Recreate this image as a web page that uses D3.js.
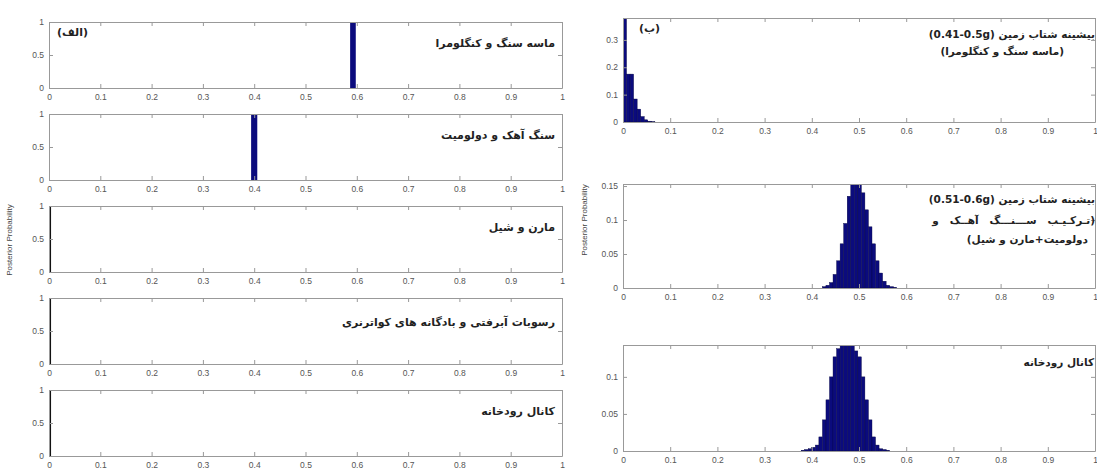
<html>
<head>
<meta charset="utf-8">
<title>Posterior Probability</title>
<style>
  body { margin: 0; background: #fff; }
  svg { display: block; }
  .tick text { font-family: "Liberation Sans", Arial, sans-serif; font-size: 8.5px; fill: #555; }
  .fa { font-family: "DejaVu Sans", sans-serif; font-weight: bold; fill: #222; direction: rtl; }
</style>
<script src="https://cdn.jsdelivr.net/npm/d3@7"></script>
</head>
<body>
<svg width="1097" height="471"></svg>
<script>
// tick values / labels
var xTicks = [0, 0.1, 0.2, 0.3, 0.4, 0.5, 0.6, 0.7, 0.8, 0.9, 1];
var xTickLabels = ["0", "0.1", "0.2", "0.3", "0.4", "0.5", "0.6", "0.7", "0.8", "0.9", "1"];
var leftYTicks = [0, 0.5, 1];

// left column: one bar per rock type
var leftLabels = ["ماسه سنگ و کنگلومرا", "سنگ آهک و دولومیت", "مارن و شیل",
                  "رسوبات آبرفتی و بادگانه های کواترنری", "کانال رودخانه"];
var leftBarStart = [0.587, 0.394, 0, 0, 0];
var leftBarEnd   = [0.598, 0.406, 0.004, 0.004, 0.004];
var leftBarProb  = [1, 1, 1, 1, 1];

// right column: histograms (bin left edge, width 0.0075)
var binWidth = 0.0075;
var hist1Start = [0, 0.0075, 0.015, 0.0225, 0.03, 0.0375, 0.045, 0.0525, 0.06];
var hist1Prob  = [0.38, 0.175, 0.175, 0.084, 0.047, 0.02, 0.008, 0.003, 0.001];
var hist2Start = [0.4225, 0.43, 0.4375, 0.445, 0.4525, 0.46, 0.4675, 0.475, 0.4825, 0.49, 0.4975,
                  0.505, 0.5125, 0.52, 0.5275, 0.535, 0.5425, 0.55, 0.5575, 0.565, 0.5725];
var hist2Prob  = [0.002, 0.004, 0.008, 0.02, 0.04, 0.065, 0.095, 0.135, 0.152, 0.155, 0.155,
                  0.14, 0.115, 0.09, 0.065, 0.04, 0.022, 0.01, 0.004, 0.002, 0.001];
var hist3Start = [0.3775, 0.385, 0.3925, 0.4, 0.4075, 0.415, 0.4225, 0.43, 0.4375, 0.445, 0.4525,
                  0.46, 0.4675, 0.475, 0.4825, 0.49, 0.4975, 0.505, 0.5125, 0.52, 0.5275,
                  0.535, 0.5425, 0.55, 0.5575];
var hist3Prob  = [0.001, 0.002, 0.003, 0.005, 0.008, 0.019, 0.042, 0.069, 0.1, 0.127, 0.138,
                  0.143, 0.145, 0.145, 0.143, 0.135, 0.127, 0.1, 0.069, 0.042, 0.019,
                  0.008, 0.003, 0.002, 0.001];
var rightYMax   = [0.38, 0.153, 0.143];
var rightYTicks = [[0, 0.1, 0.2, 0.3], [0, 0.05, 0.1, 0.15], [0, 0.05, 0.1]];
var rightYLabels = [["0", "0.1", "0.2", "0.3"], ["0", "0.05", "0.1", "0.15"], ["0", "0.05", "0.1"]];

var svg = d3.select("svg");
var barFill = "#0b0b7d";

function panel(x0, x1, y0, y1, ymax, yticks, ylabels) {
    var g = svg.append("g");
    var x = d3.scaleLinear().domain([0, 1]).range([x0, x1]);
    var y = d3.scaleLinear().domain([0, ymax]).range([y1, y0]);
    var id = "c" + Math.round(y0);
    svg.append("clipPath").attr("id", id).append("rect")
        .attr("x", x0).attr("y", y0).attr("width", x1 - x0).attr("height", y1 - y0);
    var marks = g.append("g").attr("clip-path", "url(#" + id + ")");

    // box with inward ticks on all sides
    var bottom = d3.axisBottom(x).tickValues(xTicks).tickFormat((d, i) => xTickLabels[i])
        .tickSizeInner(-4).tickSizeOuter(0).tickPadding(6);
    var top = d3.axisTop(x).tickValues(xTicks).tickFormat("").tickSizeInner(-4).tickSizeOuter(0);
    var left = d3.axisLeft(y).tickValues(yticks).tickFormat((d, i) => ylabels[i])
        .tickSizeInner(-4).tickSizeOuter(0).tickPadding(5);
    var right = d3.axisRight(y).tickValues(yticks).tickFormat("").tickSizeInner(-4).tickSizeOuter(0);
    [[bottom, 0, y1], [top, 0, y0], [left, x0, 0], [right, x1, 0]].forEach(function (a) {
        var ax = g.append("g").attr("transform", `translate(${a[1]},${a[2]})`).call(a[0]);
        ax.select(".domain").attr("stroke", "#999");
        ax.selectAll(".tick line").attr("stroke", "#999");
    });
    return {g: g, marks: marks, x: x, y: y};
}

// left column
var leftTops = [22, 114, 206, 298, 390];
leftTops.forEach(function (t, i) {
    var p = panel(49, 562, t, t + 66, 1, leftYTicks, ["0", "0.5", "1"]);
    p.marks.append("rect")
        .attr("x", p.x(leftBarStart[i]))
        .attr("width", Math.max(1.5, p.x(leftBarEnd[i]) - p.x(leftBarStart[i])))
        .attr("y", p.y(leftBarProb[i]))
        .attr("height", p.y(0) - p.y(leftBarProb[i]))
        .attr("fill", i < 2 ? barFill : "#111");
    p.g.append("text").attr("class", "fa")
        .attr("x", 555).attr("y", t + (i == 3 ? 28 : 25))
        .attr("font-size", 11)
        .text(leftLabels[i]);
});
svg.append("text").attr("class", "fa").attr("x", 0).attr("y", 0)
    .attr("font-size", 11)
    .attr("transform", "translate(88,36)")
    .text("(الف)");

// right column
var hists = [[hist1Start, hist1Prob], [hist2Start, hist2Prob], [hist3Start, hist3Prob]];
var rightBox = [[18, 122], [184, 288], [345, 451]];
hists.forEach(function (h, k) {
    var b = rightBox[k];
    var p = panel(623, 1095, b[0], b[1], rightYMax[k], rightYTicks[k], rightYLabels[k]);
    p.marks.selectAll("rect").data(h[0]).enter().append("rect")
        .attr("x", d => p.x(d))
        .attr("width", p.x(binWidth) - p.x(0))
        .attr("y", (d, i) => p.y(Math.min(h[1][i], rightYMax[k])))
        .attr("height", (d, i) => p.y(0) - p.y(Math.min(h[1][i], rightYMax[k])))
        .attr("fill", barFill)
        .attr("stroke", "#050540")
        .attr("stroke-width", 0.4);
});

// right annotations (numbers isolated so they read left to right)
var rt = [
    ["بیشینه شتاب زمین (\u20660.41-0.5g\u2069)", 1095, 38],
    ["(ماسه سنگ و کنگلومرا)", 1064, 55],
    ["بیشینه شتاب زمین (\u20660.51-0.6g\u2069)", 1095, 203],
    ["(تـرکـیـب   ســـنـــگ   آهــک   و", 1095, 224],
    ["دولومیت+مارن و شیل)", 1088, 243],
    ["کانال رودخانه", 1094, 366]
];
rt.forEach(function (r) {
    svg.append("text").attr("class", "fa").attr("x", r[1]).attr("y", r[2])
        .attr("font-size", 10.5).attr("xml:space", "preserve").style("white-space", "pre").text(r[0]);
});
svg.append("text").attr("class", "fa").attr("x", 660).attr("y", 32)
    .attr("font-size", 11).text("(ب)");

// y labels
svg.append("text").attr("transform", "translate(12,240) rotate(-90)")
    .attr("text-anchor", "middle").attr("font-family", "Liberation Sans, Arial")
    .attr("font-size", 8).attr("fill", "#444").text("Posterior Probability");
svg.append("text").attr("transform", "translate(587,220) rotate(-90)")
    .attr("text-anchor", "middle").attr("font-family", "Liberation Sans, Arial")
    .attr("font-size", 8).attr("fill", "#444").text("Posterior Probability");
</script>
</body>
</html>
